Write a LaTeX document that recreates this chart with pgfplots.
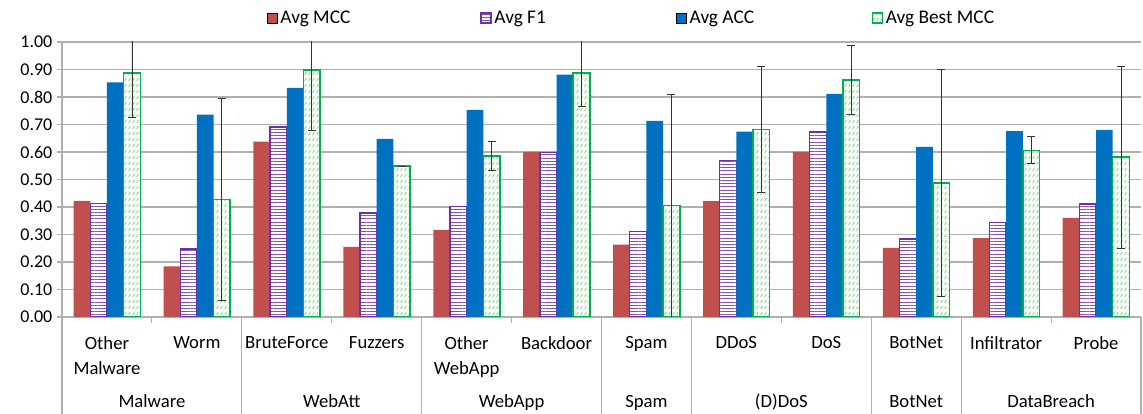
\documentclass[border=0pt]{standalone}
\usepackage{fontspec}
\setmainfont{Carlito}
\usepackage{pgfplots}
\usepackage{pgfplotstable}
\pgfplotsset{compat=1.18}
\usetikzlibrary{patterns,patterns.meta}
\definecolor{cMCC}{HTML}{C0504D}
\definecolor{cF1}{HTML}{7030A0}
\definecolor{cACC}{HTML}{0070C0}
\definecolor{cBest}{HTML}{00B050}
\definecolor{cHatch}{HTML}{6CCB78}
\definecolor{cGrid}{HTML}{B0B0B0}

\tikzdeclarepattern{
  name=dashdiag,
  type=uncolored,
  bounding box={(0pt,0pt) and (3pt,4.6pt)},
  tile size={(3pt,4.6pt)},
  code={\pgfsetlinewidth{0.65pt}\pgfpathmoveto{\pgfpoint{0.6pt}{1pt}}\pgfpathlineto{\pgfpoint{2.2pt}{3.3pt}}\pgfusepath{stroke}}
}

\pgfplotstableread{
x mcc f1 acc best err
0 0.422 0.412 0.853 0.887 0.162
1 0.184 0.247 0.736 0.427 0.368
2 0.638 0.691 0.833 0.899 0.219
3 0.255 0.378 0.648 0.549 0
4 0.317 0.402 0.753 0.585 0.052
5 0.600 0.597 0.881 0.887 0.120
6 0.263 0.311 0.713 0.405 0.405
7 0.421 0.570 0.674 0.682 0.228
8 0.600 0.673 0.811 0.862 0.125
9 0.251 0.284 0.619 0.488 0.413
10 0.287 0.344 0.676 0.606 0.049
11 0.360 0.411 0.680 0.581 0.330
}\data

\begin{document}
\begin{tikzpicture}
\begin{axis}[
  at={(0,0)}, anchor=south west,
  scale only axis, width=809.25pt, height=206.25pt,
  ybar=0pt, bar width=12.5pt,
  xmin=-0.5, xmax=11.5, ymin=0, ymax=1,
  ytick={0,0.1,...,1.01},
  axis lines*=left,
  axis line style={cGrid, line width=0.8pt},
  ymajorgrids, grid style={cGrid, line width=0.8pt},
  tick align=outside, major tick length=3.75pt,
  ytick style={cGrid, line width=0.8pt},
  xtick style={draw=none},
  xtick={0,...,11},
  xticklabels={{Other\\Malware},Worm,BruteForce,Fuzzers,{Other\\WebApp},Backdoor,Spam,DDoS,DoS,BotNet,Infiltrator,Probe},
  x tick label style={align=center, font=\fontsize{14}{18.5}\selectfont, yshift=-7.5pt},
  y tick label style={font=\fontsize{13.5}{16}\selectfont, /pgf/number format/.cd, fixed, fixed zerofill, precision=2, assume math mode=true},
  legend style={draw=none, at={(0.190,1.087)}, anchor=west, legend columns=4, inner sep=0pt,
    font=\fontsize{14.5}{17}\selectfont,
    /tikz/every even column/.append style={column sep=0pt}},
  legend image code/.code={\draw[#1] (0pt,-3.75pt) rectangle (7.5pt,3.75pt);},
]
\addplot[fill=cMCC, draw=none] table[x=x, y=mcc] {\data};
\addlegendentry{\makebox[148pt][l]{Avg MCC}}
\addplot[fill=white, draw=cF1, line width=1pt,
  postaction={pattern={Lines[angle=0, distance=2.4pt, line width=0.7pt]}, pattern color=cF1!85}] table[x=x, y=f1] {\data};
\addlegendentry{\makebox[134.5pt][l]{Avg F1}}
\addplot[fill=cACC, draw=none] table[x=x, y=acc] {\data};
\addlegendentry{\makebox[134.5pt][l]{Avg ACC}}
\addplot[fill=white, draw=cBest, line width=1.1pt,
  postaction={pattern=dashdiag, pattern color=cHatch},
  error bars/.cd, y dir=both, y explicit,
  error bar style={black!80, line width=0.6pt, solid},
  error mark options={rotate=90, black!80, mark size=3pt, line width=0.6pt}]
  table[x=x, y=best, y error=err] {\data};
\addlegendentry{Avg Best MCC}
\coordinate (g0) at (axis cs:-0.5,0);
\coordinate (g1) at (axis cs:1.5,0);
\coordinate (g2) at (axis cs:3.5,0);
\coordinate (g3) at (axis cs:5.5,0);
\coordinate (g4) at (axis cs:6.5,0);
\coordinate (g5) at (axis cs:8.5,0);
\coordinate (g6) at (axis cs:9.5,0);
\coordinate (g7) at (axis cs:11.5,0);
\coordinate (m1) at (axis cs:0.5,0);
\coordinate (m2) at (axis cs:2.5,0);
\coordinate (m3) at (axis cs:4.5,0);
\coordinate (m4) at (axis cs:7.5,0);
\coordinate (m5) at (axis cs:10.5,0);
\coordinate (L1) at (axis cs:0.5,0);
\coordinate (L2) at (axis cs:2.5,0);
\coordinate (L3) at (axis cs:4.5,0);
\coordinate (L4) at (axis cs:6,0);
\coordinate (L5) at (axis cs:7.5,0);
\coordinate (L6) at (axis cs:9,0);
\coordinate (L7) at (axis cs:10.5,0);
\end{axis}
\foreach \g in {g0,g1,g2,g3,g4,g5,g6,g7}{\draw[cGrid, line width=0.8pt] (\g) -- ++(0,-72.75pt);}
\foreach \m in {m1,m2,m3,m4,m5}{\draw[cGrid, line width=0.8pt] (\m) -- ++(0,-4.5pt);}
\begin{scope}[every node/.style={anchor=base, font=\fontsize{14}{17}\selectfont, inner sep=0pt}]
\node at ([yshift=-68pt]L1) {Malware};
\node at ([yshift=-68pt]L2) {WebAtt};
\node at ([yshift=-68pt]L3) {WebApp};
\node at ([yshift=-68pt]L4) {Spam};
\node at ([yshift=-68pt]L5) {(D)DoS};
\node at ([yshift=-68pt]L6) {BotNet};
\node at ([yshift=-68pt]L7) {DataBreach};
\end{scope}
\pgfresetboundingbox
\path[use as bounding box] (-46.5pt,-72.75pt) rectangle (810.75pt,237.75pt);
\end{tikzpicture}
\end{document}
